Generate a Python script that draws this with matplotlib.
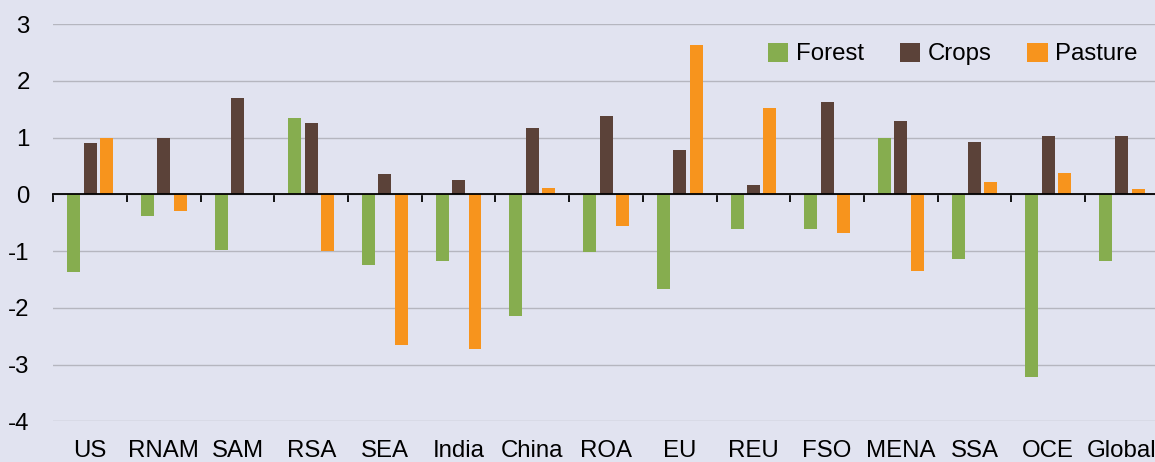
import numpy as np
import matplotlib
matplotlib.use('Agg')
import matplotlib.pyplot as plt

# Regions and land-use change values
regions = ['US', 'RNAM', 'SAM', 'RSA', 'SEA', 'India', 'China', 'ROA', 'EU',
           'REU', 'FSO', 'MENA', 'SSA', 'OCE', 'Global']
forest = [-1.37, -0.38, -0.98, 1.34, -1.24, -1.18, -2.15, -1.01, -1.66,
          -0.61, -0.61, 0.99, -1.14, -3.21, -1.18]
crops = [0.90, 1.00, 1.69, 1.26, 0.36, 0.25, 1.17, 1.38, 0.78,
         0.17, 1.62, 1.30, 0.92, 1.03, 1.03]
pasture = [1.00, -0.30, 0.0, -1.00, -2.66, -2.73, 0.11, -0.55, 2.63,
           1.52, -0.68, -1.35, 0.22, 0.38, 0.10]

bg = '#e1e3f0'
plt.rcParams['font.family'] = ['Liberation Sans', 'DejaVu Sans']
plt.rcParams['axes.unicode_minus'] = False
fs = 17.3

fig = plt.figure(figsize=(11.55, 4.62), dpi=100, facecolor=bg)
ax = fig.add_axes([0.0462, 0.088, 0.957, 0.860], facecolor=bg)

x = np.arange(len(regions))
w = 0.176
off = 0.222
ax.bar(x - off, forest, w, color='#86ad4f', label='Forest', zorder=2)
ax.bar(x, crops, w, color='#5b4239', label='Crops', zorder=2)
ax.bar(x + off, pasture, w, color='#f7941d', label='Pasture', zorder=2)

ax.set_xlim(-0.5, len(regions) - 0.5)
ax.set_ylim(-4, 3)
ax.set_yticks(range(-4, 4))
ax.yaxis.grid(True, color='#b5b6bf', linewidth=1.0)
ax.set_axisbelow(True)
ax.tick_params(axis='y', length=0, pad=17, labelsize=fs)

for s in ['left', 'right', 'top']:
    ax.spines[s].set_visible(False)
ax.spines['bottom'].set_position(('data', 0))
ax.spines['bottom'].set_linewidth(1.3)
ax.spines['bottom'].set_zorder(3)
ax.set_xticks([])
ax.set_xticks(np.arange(len(regions) + 1) - 0.5, minor=True)
ax.tick_params(axis='x', which='minor', direction='out', length=5.5, width=1.3)

sec = ax.secondary_xaxis('bottom')
sec.set_xticks(x, regions)
sec.spines['bottom'].set_visible(False)
sec.tick_params(length=0, pad=13.5, labelsize=fs)

fig.legend(loc='center left', bbox_to_anchor=(0.665, 1 - 54 / 462),
           ncol=3, frameon=False, fontsize=fs, handlelength=0.85,
           handleheight=0.85, handletextpad=0.3, columnspacing=1.5,
           borderpad=0, borderaxespad=0)

fig.savefig('out.png', dpi=100, facecolor=bg)
